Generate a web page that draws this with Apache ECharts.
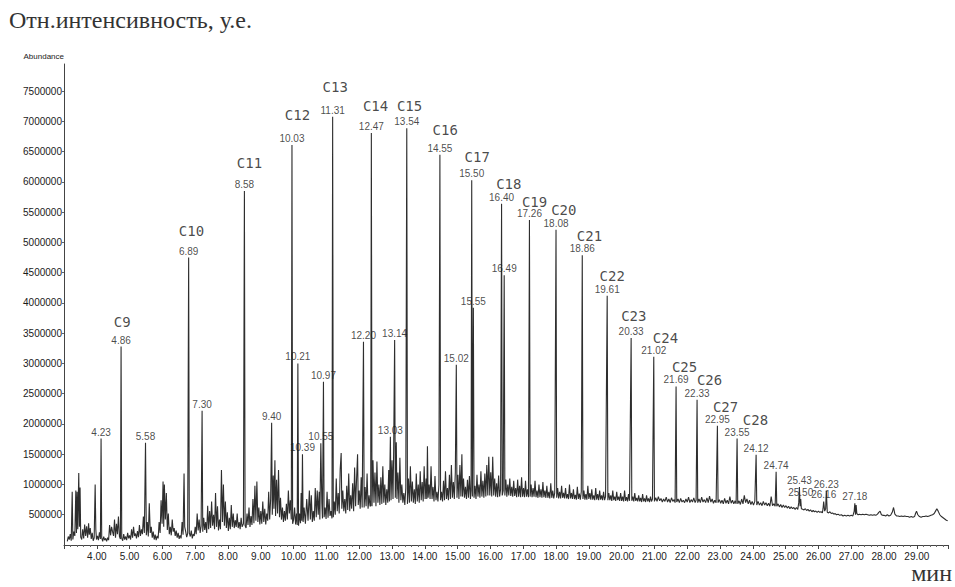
<!DOCTYPE html>
<html><head><meta charset="utf-8">
<script src="https://cdn.jsdelivr.net/npm/echarts/dist/echarts.min.js"></script>
<style>html,body{margin:0;padding:0;background:#fff}#c{width:955px;height:587px}</style>
</head><body><div id="c"></div>
<script>
// Retention time (min) and abundance (thousands) of the background / noise trace
const noiseTrace = [
[3.10,60],[3.13,140],[3.16,90],[3.19,180],[3.22,70],[3.25,880],[3.27,90],[3.30,220],[3.33,150],[3.36,900],[3.38,200],[3.40,880],[3.42,260],[3.45,1190],[3.47,300],[3.49,950],[3.51,130],[3.54,90],[3.57,260],[3.60,110],[3.63,340],[3.66,150],[3.69,310],[3.72,120],[3.75,360],[3.77,170],[3.80,280],[3.83,100],[3.86,200],[3.89,70],[3.92,120],[3.95,1000],[3.97,260],[3.99,90],[4.02,150],[4.05,80],[4.08,210],[4.11,100],[4.15,120],[4.18,60],[4.21,140],[4.24,80],[4.27,110],[4.30,60],[4.33,120],[4.36,80],[4.39,330],[4.42,160],[4.45,300],[4.48,220],[4.51,150],[4.54,420],[4.57,120],[4.60,350],[4.63,180],[4.66,470],[4.69,140],[4.72,100],[4.76,110],[4.79,70],[4.82,180],[4.85,90],[4.88,140],[4.91,80],[4.94,200],[4.97,110],[5.00,160],
[5.03,90],[5.06,260],[5.09,120],[5.12,300],[5.15,150],[5.18,190],[5.21,110],[5.24,230],[5.27,130],[5.30,330],[5.33,150],[5.36,260],[5.39,180],[5.42,470],[5.45,200],[5.51,160],[5.54,380],[5.57,140],[5.60,690],[5.63,200],[5.66,300],[5.69,120],[5.72,220],[5.75,90],[5.78,170],[5.81,80],[5.84,150],[5.87,110],[5.90,380],[5.93,200],[5.96,740],[5.99,350],[6.02,1050],[6.04,300],[6.06,1000],[6.09,420],[6.12,860],[6.15,250],[6.18,520],[6.21,180],[6.24,300],[6.27,160],[6.30,420],[6.33,220],[6.36,280],[6.39,150],[6.42,240],[6.45,120],[6.48,200],[6.51,100],[6.54,160],[6.57,110],[6.60,380],[6.63,170],[6.66,1180],[6.68,300],[6.71,220],[6.74,130],[6.77,190],[6.82,200],[6.85,140],[6.88,240],[6.91,110],[6.94,180],[6.97,150],
[7.00,300],[7.03,180],[7.06,520],[7.09,240],[7.12,420],[7.15,200],[7.18,310],[7.23,220],[7.26,450],[7.29,250],[7.32,380],[7.35,200],[7.38,650],[7.41,260],[7.44,560],[7.47,280],[7.50,720],[7.53,320],[7.56,500],[7.59,260],[7.62,860],[7.65,300],[7.68,640],[7.71,240],[7.74,420],[7.77,260],[7.80,1240],[7.83,380],[7.86,1000],[7.89,320],[7.92,720],[7.95,280],[7.98,540],[8.01,230],[8.04,450],[8.07,260],[8.10,660],[8.13,300],[8.16,520],[8.19,280],[8.22,410],[8.25,300],[8.28,520],[8.31,280],[8.34,380],[8.37,260],[8.40,450],[8.43,300],[8.47,350],[8.52,320],[8.55,280],[8.58,520],[8.61,330],[8.64,620],[8.67,300],[8.70,480],[8.73,330],[8.76,760],[8.79,360],[8.82,980],[8.85,400],[8.88,1050],[8.91,380],[8.94,620],[8.97,340],
[9.00,560],[9.03,350],[9.06,720],[9.09,380],[9.12,600],[9.15,340],[9.18,520],[9.21,400],[9.24,880],[9.27,420],[9.30,760],[9.35,500],[9.38,1150],[9.40,600],[9.43,1400],[9.45,480],[9.48,1080],[9.51,520],[9.54,1240],[9.57,460],[9.60,780],[9.63,420],[9.66,620],[9.69,380],[9.72,560],[9.75,400],[9.78,680],[9.81,420],[9.84,900],[9.87,520],[9.90,740],[9.93,420],[9.97,350],[10.00,420],[10.03,620],[10.06,340],[10.09,520],[10.11,330],[10.15,320],[10.18,520],[10.21,360],[10.23,860],[10.25,400],[10.29,380],[10.32,620],[10.36,350],[10.40,760],[10.44,400],[10.48,900],[10.51,420],[10.54,820],[10.57,380],[10.60,560],[10.63,400],[10.66,940],[10.69,460],[10.72,900],[10.75,500],[10.78,880],[10.80,420],[10.86,700],[10.88,440],[10.93,460],[10.96,620],[10.99,430],
[11.02,880],[11.05,450],[11.08,760],[11.11,480],[11.14,560],[11.17,440],[11.21,460],[11.24,720],[11.27,500],[11.30,1100],[11.33,560],[11.36,860],[11.39,520],[11.42,1250],[11.45,1520],[11.47,600],[11.50,900],[11.53,560],[11.56,760],[11.59,520],[11.62,980],[11.65,580],[11.68,1180],[11.71,560],[11.74,820],[11.77,600],[11.80,1020],[11.83,560],[11.86,1280],[11.89,640],[11.92,1100],[11.95,1500],[11.97,660],[12.00,900],[12.03,600],[12.06,1120],[12.09,620],[12.15,620],[12.18,960],[12.21,640],[12.24,1180],[12.27,600],[12.30,820],[12.33,640],[12.35,650],[12.39,640],[12.42,1400],[12.45,700],[12.48,1200],[12.51,640],[12.54,1380],[12.57,700],[12.60,1000],[12.63,660],[12.66,1120],[12.69,680],[12.72,1300],[12.75,700],[12.78,1000],[12.81,660],[12.84,920],[12.87,700],[12.90,1240],[12.92,720],[12.97,740],[13.00,1400],[13.03,760],[13.05,1540],[13.10,780],[13.13,1700],[13.15,760],[13.18,1200],[13.21,700],[13.24,1440],[13.27,740],[13.30,1000],[13.33,700],[13.36,860],[13.39,660],[13.42,940],[13.47,680],[13.50,1100],[13.53,700],[13.56,1300],[13.59,720],
[13.62,1050],[13.65,700],[13.68,920],[13.71,680],[13.74,1180],[13.77,720],[13.80,1000],[13.83,700],[13.86,1220],[13.89,740],[13.92,1040],[13.95,720],[13.98,1300],[14.01,760],[14.04,1100],[14.06,760],[14.08,1630],[14.10,780],[14.13,1000],[14.16,760],[14.19,1300],[14.22,760],[14.25,960],[14.28,720],[14.31,1140],[14.34,740],[14.37,880],[14.40,720],[14.43,1000],[14.48,740],[14.51,880],[14.54,720],[14.57,1060],[14.60,740],[14.63,1220],[14.66,760],[14.69,940],[14.72,740],[14.75,1160],[14.78,760],[14.81,1320],[14.84,780],[14.87,1040],[14.90,760],[14.93,1200],[14.98,780],[15.01,1160],[15.04,760],[15.07,1320],[15.10,800],[15.13,1500],[15.15,800],[15.18,1100],[15.21,780],[15.24,960],[15.27,760],[15.30,1080],[15.33,780],[15.36,1140],[15.39,760],[15.41,900],[15.45,800],[15.50,780],[15.53,980],[15.56,760],[15.59,1160],[15.62,800],[15.65,1000],[15.68,780],[15.71,1220],[15.74,800],[15.77,1060],[15.80,780],[15.83,1180],[15.86,800],[15.89,1320],[15.92,820],[15.95,1460],[15.98,820],[16.01,1200],[16.04,800],[16.07,1460],[16.10,820],[16.13,1100],[16.16,800],[16.19,1020],[16.22,790],[16.25,1150],[16.28,800],[16.31,920],[16.36,820],[16.39,900],[16.44,820],[16.47,1080],
[16.50,800],[16.53,1000],[16.56,820],[16.59,1100],[16.62,810],[16.65,960],[16.68,800],[16.71,1060],[16.74,810],[16.77,940],[16.80,790],[16.83,1080],[16.86,800],[16.89,980],[16.92,790],[16.95,1120],[16.98,800],[17.01,940],[17.04,790],[17.07,1060],[17.10,800],[17.13,920],[17.16,790],[17.21,800],[17.24,1000],[17.27,790],[17.30,940],[17.33,800],[17.36,1060],[17.39,790],[17.42,900],[17.45,780],[17.48,1000],[17.51,790],[17.54,920],[17.57,780],[17.60,1040],[17.63,790],[17.66,900],[17.69,780],[17.72,980],[17.75,780],[17.78,880],[17.81,770],[17.84,1020],[17.87,780],[17.90,900],[17.93,770],[17.96,860],[18.02,780],[18.05,940],[18.08,770],[18.11,880],[18.14,770],[18.17,980],[18.20,780],[18.23,860],[18.26,770],[18.29,940],[18.32,770],[18.35,840],[18.38,760],[18.41,1000],[18.44,770],[18.47,860],[18.50,760],[18.53,920],[18.56,760],[18.59,830],[18.62,750],[18.65,960],[18.68,760],[18.71,850],[18.74,750],[18.77,880],[18.82,760],[18.85,900],[18.88,750],[18.91,840],[18.94,750],[18.97,980],[19.00,760],[19.03,860],[19.06,750],[19.09,920],[19.12,750],[19.15,820],[19.18,740],[19.21,940],[19.24,750],[19.27,840],[19.30,740],[19.33,900],[19.36,750],[19.39,820],[19.42,740],[19.45,880],[19.48,740],[19.51,800],[19.58,740],[19.61,860],[19.64,740],[19.67,820],[19.70,730],[19.73,900],[19.76,740],[19.79,800],[19.82,730],[19.85,880],[19.88,740],[19.91,800],[19.94,730],[19.97,860],[20.00,730],[20.03,800],[20.06,720],[20.09,900],[20.12,730],[20.15,790],[20.18,720],[20.21,840],[20.24,730],[20.31,730],[20.34,800],[20.37,720],[20.40,860],[20.43,730],[20.46,780],[20.49,720],[20.52,820],[20.55,720],[20.58,780],[20.61,710],[20.64,840],[20.67,720],[20.70,770],[20.73,710],[20.76,820],[20.79,720],[20.82,770],[20.85,710],[20.88,800],[20.91,720],[20.94,760],[21.00,720],
[21.04,780],[21.08,720],[21.12,800],[21.16,730],[21.20,770],[21.24,710],[21.28,760],[21.32,720],[21.36,790],[21.40,710],[21.44,760],[21.48,700],[21.52,780],[21.56,720],[21.60,750],[21.63,700],[21.68,710],[21.72,760],[21.76,700],[21.80,770],[21.84,710],[21.88,740],[21.92,700],[21.96,760],[22.00,710],[22.04,790],[22.08,700],[22.12,750],[22.16,710],[22.20,780],[22.24,700],[22.27,740],[22.32,700],[22.36,760],[22.40,700],[22.44,790],[22.48,710],[22.52,750],[22.56,700],[22.60,780],[22.64,700],[22.68,810],[22.72,710],[22.76,760],[22.80,690],[22.84,740],[22.88,700],[22.94,700],[22.98,750],[23.02,690],[23.06,740],[23.10,680],[23.14,770],[23.18,690],[23.22,740],[23.26,680],[23.30,800],[23.34,690],[23.38,740],[23.42,680],[23.46,730],[23.49,680],[23.54,680],[23.58,730],[23.62,670],[23.66,760],[23.70,680],[23.74,820],[23.78,700],[23.82,760],[23.86,680],[23.90,740],[23.94,670],[23.98,720],[24.02,660],[24.06,720],[24.12,660],[24.16,720],[24.20,660],[24.24,700],[24.28,650],[24.32,720],[24.36,660],[24.40,700],[24.44,650],[24.48,690],[24.52,640],[24.56,800],[24.60,650],[24.64,680],[24.68,640],[24.73,640],[24.77,680],[24.81,630],[24.85,670],[24.89,620],[24.93,660],[24.97,620],
[25.01,650],[25.05,610],[25.09,640],[25.13,600],[25.17,630],[25.21,600],[25.25,620],[25.29,590],[25.33,620],[25.37,590],[25.40,700],[25.44,640],[25.48,600],[25.52,590],[25.56,580],[25.60,600],[25.64,570],[25.68,590],[25.72,560],[25.76,580],[25.80,550],[25.84,570],[25.88,550],[25.92,560],[25.96,540],[26.00,560],[26.04,540],[26.08,550],[26.12,530],[26.14,600],[26.19,560],[26.22,600],[26.27,540],[26.31,530],[26.35,550],[26.39,520],[26.43,530],[26.47,510],[26.51,520],[26.55,500],[26.60,510],[26.65,490],[26.70,500],[26.75,480],[26.80,490],[26.85,480],[26.90,490],[26.95,480],[27.00,490],[27.05,480],[27.09,560],[27.13,500],[27.15,660],[27.17,520],[27.21,500],[27.25,510],[27.30,500],[27.35,510],[27.40,500],[27.45,510],[27.50,500],[27.55,490],[27.60,500],[27.65,490],[27.70,500],[27.75,490],[27.80,510],[27.84,540],[27.88,560],[27.92,500],[27.96,490],[28.00,490],[28.05,480],[28.10,500],[28.15,480],[28.20,490],[28.25,540],[28.29,620],[28.33,510],[28.38,480],[28.43,480],[28.48,470],[28.53,480],[28.58,470],[28.63,480],[28.68,470],[28.73,470],[28.78,460],[28.83,470],[28.88,460],[28.93,470],[28.96,520],[28.99,560],[29.03,500],[29.08,470],[29.13,460],[29.18,470],[29.23,470],[29.28,480],[29.33,470],[29.38,480],[29.43,490],[29.48,500],[29.53,520],[29.57,560],[29.61,600],[29.65,560],[29.70,500],[29.75,470],[29.80,450],[29.85,430],[29.90,410],[29.94,400]
];

// Labelled peaks: position on the time axis (min), apex abundance (thousands), printed retention time
const peakTimes   = [4.13,4.74,5.485,6.80,7.21,8.50,9.33,9.95,10.13,10.27,10.83,10.91,11.19,12.13,12.37,12.95,13.08,13.45,14.46,14.96,15.43,15.48,16.34,16.42,17.19,18.00,18.80,19.56,20.29,20.98,21.66,22.30,22.92,23.52,24.10,24.71,25.42,25.46,26.16,26.24,27.11];
const peakHeights = [1760,3280,1690,4750,2220,5850,2020,6610,3000,1500,1680,2700,7080,3360,6810,1790,3390,6890,6450,2980,6030,3920,5640,4460,5370,5210,4790,4120,3420,3110,2620,2400,1970,1760,1490,1210,960,760,720,900,690];
const peakLabels  = ["4.23","4.86","5.58","6.89","7.30","8.58","9.40","10.03","10.21","10.39","10.55","10.97","11.31","12.20","12.47","13.03","13.14","13.54","14.55","15.02","15.50","15.55","16.40","16.49","17.26","18.08","18.86","19.61","20.33","21.02","21.69","22.33","22.95","23.55","24.12","24.74","25.43","25.50","26.16","26.23","27.18"];

// n-alkane annotations and where they are written (time, abundance in thousands)
const alkaneNames = ["C9","C10","C11","C12","C13","C14","C15","C16","C17","C18","C19","C20","C21","C22","C23","C24","C25","C26","C27","C28"];
const alkaneLabelTime  = [4.774,6.887,8.655,10.119,11.268,12.497,13.534,14.622,15.598,16.561,17.345,18.238,19.021,19.713,20.372,21.338,21.918,22.680,23.168,24.080];
const alkaneLabelAbund = [3692,5192,6316,7110,7578,7263,7263,6862,6420,5964,5676,5539,5109,4453,3791,3418,2948,2728,2277,2060];

const yTickStep = 500000;

const trace = noiseTrace.concat(peakTimes.map((t,i)=>[t, peakHeights[i]]))
  .sort((a,b)=>a[0]-b[0])
  .map(p=>[p[0], p[1]*1000]);

const chart = echarts.init(document.getElementById('c'), null, {renderer:'svg'});
chart.setOption({
  animation:false,
  backgroundColor:'#fff',
  grid:{left:64, right:7, top:64, bottom:42},
  title:{text:'Отн.интенсивность, у.е.', left:4, top:3,
    textStyle:{fontFamily:'Liberation Serif', fontSize:24, fontWeight:'normal', color:'#333'}},
  graphic:[{type:'text', right:3, bottom:2,
    style:{text:'мин', font:'24px "Liberation Serif"', fill:'#333'}}],
  xAxis:{type:'value', min:3, max:29.95, interval:1,
    axisLine:{lineStyle:{color:'#444', width:1}},
    axisTick:{length:4, lineStyle:{color:'#444'}},
    minorTick:{show:true, splitNumber:5, length:2, lineStyle:{color:'#666'}},
    splitLine:{show:false},
    axisLabel:{showMinLabel:false, showMaxLabel:false, margin:6, fontFamily:'Liberation Sans', fontSize:10, color:'#222',
      formatter:v=>v.toFixed(2)}},
  yAxis:{type:'value', min:0, max:7950000, interval:yTickStep,
    name:'Abundance', nameLocation:'end', nameGap:4,
    nameTextStyle:{fontFamily:'Liberation Sans', fontSize:8, color:'#222', align:'right', padding:[0,0,0,0]},
    axisLine:{show:true, lineStyle:{color:'#444', width:1}},
    axisTick:{show:true, length:2, lineStyle:{color:'#666'}},
    splitLine:{show:false},
    axisLabel:{showMinLabel:false, showMaxLabel:false, margin:2, fontFamily:'Liberation Sans', fontSize:10, color:'#1a1a1a',
      formatter:v=>String(v)}},
  series:[
    {type:'line', data:trace, showSymbol:false, symbol:'none', sampling:null,
     lineStyle:{color:'#2e2e2e', width:1.1}, z:2},
    {type:'scatter', symbolSize:1, itemStyle:{color:'rgba(0,0,0,0)'},
     data:peakTimes.map((t,i)=>({value:[t, peakHeights[i]*1000], name:peakLabels[i]})),
     label:{show:true, position:'top', distance:1, formatter:p=>p.name,
       fontFamily:'Liberation Sans', fontSize:10, color:'#1a1a1a'}, z:3},
    {type:'scatter', symbolSize:1, itemStyle:{color:'rgba(0,0,0,0)'},
     data:alkaneLabelTime.map((t,i)=>({value:[t, alkaneLabelAbund[i]*1000], name:alkaneNames[i]})),
     label:{show:true, position:'inside', formatter:p=>p.name,
       fontFamily:'DejaVu Sans Mono', fontSize:14, color:'#1a1a1a'}, z:3}
  ]
});
</script></body></html>
